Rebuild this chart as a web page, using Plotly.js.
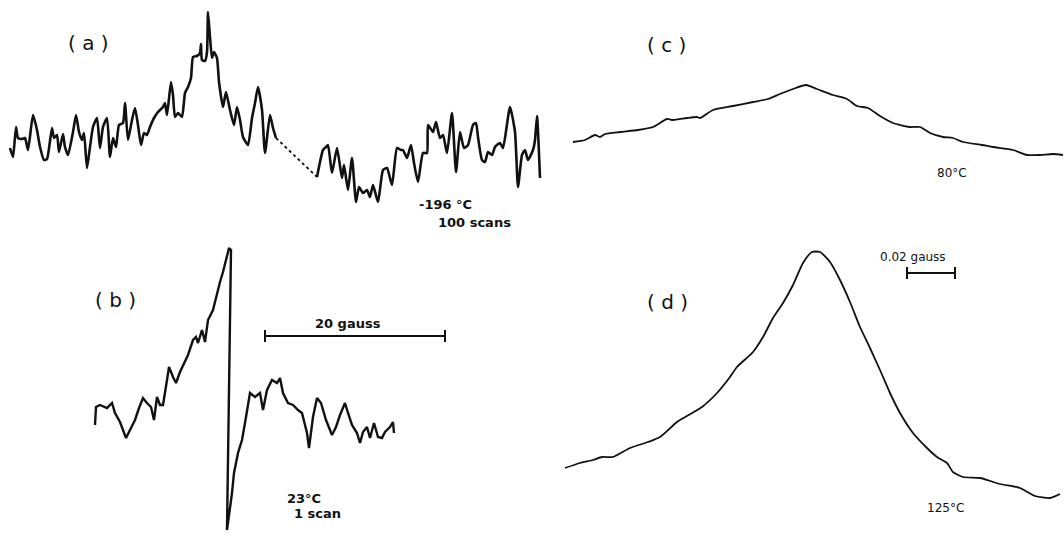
<!DOCTYPE html>
<html><head><meta charset="utf-8">
<script src="https://cdn.plot.ly/plotly-3.0.1.min.js"></script>
<style>html,body{margin:0;padding:0;background:#fff}#chart{width:1064px;height:537px}</style>
</head><body><div id="chart"></div>
<script>
// Panel (a) -196 °C, 100 scans (two recorded segments joined by a dotted gap)
const aField1 = [10,13,16,18,22,25,28,33,37,40,44,47,52,54,57,59,63,65,68,73,76,79,82,84,87,90,93,97,100,103,107,110,113,116,119,123,125,128,132,135,138,141,144,147,150,154,158,163,165,167,171,173,175,178,182,185,188,191,193,197,200,201,202,205,207,208,210,212,214,217,219,223,226,230,234,237,240,243,248,252,255,258,262,265,270,273,276];
const aSignal1 = [82,73,103,92,91,92,80,115,100,83,70,71,102,92,95,78,96,83,75,98,115,98,90,97,62,83,103,112,82,103,112,73,92,83,105,107,127,90,110,122,105,85,97,95,103,112,118,123,127,115,148,135,113,117,113,137,143,152,173,174,177,186,170,169,178,218,193,172,178,172,148,123,138,120,105,123,110,93,85,112,127,143,120,77,115,102,92];
const aGapField = [276,317];
const aGapSignal = [92,53];
const aField2 = [317,323,326,328,332,337,342,344,348,352,356,359,363,367,370,373,378,383,387,392,397,401,403,407,411,414,418,423,427,428,433,436,440,443,447,452,456,460,464,468,473,476,478,482,485,488,492,495,500,503,510,515,518,522,525,528,533,535,537,540];
const aSignal2 = [53,80,83,85,57,82,52,65,40,72,28,43,37,40,33,45,28,60,62,45,82,80,80,72,85,67,48,77,77,105,98,108,92,95,77,117,58,98,82,85,105,107,93,70,68,78,75,83,87,82,123,98,43,75,80,70,80,90,114,52];

// Panel (b) 23 °C, 1 scan
const bField = [35,36,40,47,52,55,60,66,70,75,79,83,87,91,94,97,100,103,107,109,113,116,120,126,128,133,136,138,142,145,148,153,157,160,163,167,169,171,167,172,174,178,182,185,188,190,195,200,203,207,212,217,220,223,228,233,238,242,247,249,253,257,261,266,272,276,280,285,288,292,297,300,303,307,310,314,318,322,325,330,333,334];
const bSignal = [112,130,132,129,134,124,115,99,107,117,129,139,134,130,117,140,132,132,157,170,160,154,165,179,182,197,200,194,207,195,217,227,244,255,265,280,289,287,7,44,64,84,97,114,134,144,140,144,127,147,157,154,159,144,134,132,127,124,104,89,120,139,134,117,102,110,122,134,124,112,104,94,105,110,99,114,100,99,105,110,115,104];

// Panel (c) 80 °C
const cField = [13,25,35,40,45,60,78,93,107,113,127,137,140,153,173,193,208,220,233,246,257,273,287,297,308,320,333,350,360,370,383,393,403,422,433,453,467,480,493,503];
const cSignal = [88,90,95,93,96,98,100,103,111,110,112,113,112,120,124,128,131,136,141,145,141,135,131,124,122,114,107,103,103,97,93,92,88,85,83,80,75,75,76,75];

// Panel (d) 125 °C
const dField = [5,20,33,42,53,70,88,100,117,127,142,157,170,177,193,203,213,223,233,243,252,260,270,280,290,300,310,320,330,340,353,367,377,387,393,403,420,440,460,475,490,500];
const dSignal = [69,74,77,80,80,89,95,100,115,121,130,144,160,170,185,200,219,234,252,274,285,285,275,257,235,210,189,167,144,124,104,89,80,74,65,60,59,53,49,41,39,43];

// Scale bars (field units of their panels)
const bScaleBar = [205,385];
const dScaleBar = [347,395];

const ink = '#111';
const thick = {color: ink, width: 2.6, shape: 'spline', smoothing: 0.5};
const thin = {color: ink, width: 1.8, shape: 'spline', smoothing: 0.6};

const traces = [
  {x: aField1, y: aSignal1, xaxis: 'x', yaxis: 'y', mode: 'lines', line: thick},
  {x: aGapField, y: aGapSignal, xaxis: 'x', yaxis: 'y', mode: 'lines', line: {color: ink, width: 1.8, dash: 'dot'}},
  {x: aField2, y: aSignal2, xaxis: 'x', yaxis: 'y', mode: 'lines', line: thick},
  {x: bField, y: bSignal, xaxis: 'x2', yaxis: 'y2', mode: 'lines', line: {color: ink, width: 2.4, shape: 'linear'}},
  {x: cField, y: cSignal, xaxis: 'x3', yaxis: 'y3', mode: 'lines', line: thin},
  {x: dField, y: dSignal, xaxis: 'x4', yaxis: 'y4', mode: 'lines', line: thin}
];

const hid = {visible: false, fixedrange: true};
const W = 1064, H = 537;
const colL = [0, 560 / W], colR = [560 / W, 1], colB = [60 / W, 460 / W];
const rowT = [1 - 230 / H, 1], rowB = [0, 1 - 230 / H];

const shapes = [
  {type: 'line', xref: 'x2', yref: 'y2', x0: bScaleBar[0], x1: bScaleBar[1], y0: 201, y1: 201, line: {color: ink, width: 2}},
  {type: 'line', xref: 'x2', yref: 'y2', x0: bScaleBar[0], x1: bScaleBar[0], y0: 195, y1: 207, line: {color: ink, width: 2}},
  {type: 'line', xref: 'x2', yref: 'y2', x0: bScaleBar[1], x1: bScaleBar[1], y0: 195, y1: 207, line: {color: ink, width: 2}},
  {type: 'line', xref: 'x4', yref: 'y4', x0: dScaleBar[0], x1: dScaleBar[1], y0: 264, y1: 264, line: {color: ink, width: 2}},
  {type: 'line', xref: 'x4', yref: 'y4', x0: dScaleBar[0], x1: dScaleBar[0], y0: 258, y1: 270, line: {color: ink, width: 2}},
  {type: 'line', xref: 'x4', yref: 'y4', x0: dScaleBar[1], x1: dScaleBar[1], y0: 258, y1: 270, line: {color: ink, width: 2}}
];

const F = 'DejaVu Sans, sans-serif';
function ann(text, xr, yr, x, y, size, anchor, bold) {
  return {text: bold ? '<b>' + text + '</b>' : text, xref: xr, yref: yr, x: x, y: y, showarrow: false,
          xanchor: anchor || 'center', yanchor: 'middle', font: {family: F, size: size, color: ink}};
}
const annotations = [
  ann('( a )', 'x', 'y', 88, 187, 20),
  ann('-196 °C', 'x', 'y', 417, 26, 13, 'left', true),
  ann('100 scans', 'x', 'y', 436, 8, 13, 'left', true),
  ann('( b )', 'x2', 'y2', 55, 237, 20),
  ann('20 gauss', 'x2', 'y2', 288, 214, 13, 'center', true),
  ann('23°C', 'x2', 'y2', 225, 39, 13, 'left', true),
  ann('1 scan', 'x2', 'y2', 232, 24, 13, 'left', true),
  ann('( c )', 'x3', 'y3', 106, 185, 20),
  ann('80°C', 'x3', 'y3', 375, 57, 12, 'left'),
  ann('( d )', 'x4', 'y4', 107, 235, 20),
  ann('0.02 gauss', 'x4', 'y4', 318, 280, 12, 'left'),
  ann('125°C', 'x4', 'y4', 365, 29, 12, 'left')
];

const layout = {
  width: W, height: H, margin: {l: 0, r: 0, t: 0, b: 0},
  paper_bgcolor: '#fff', plot_bgcolor: 'rgba(0,0,0,0)', showlegend: false,
  xaxis: Object.assign({domain: colL, range: [0, 560]}, hid),
  yaxis: Object.assign({domain: rowT, range: [0, 230]}, hid),
  xaxis2: Object.assign({domain: colB, range: [0, 400]}, hid),
  yaxis2: Object.assign({domain: rowB, range: [0, 307]}, hid),
  xaxis3: Object.assign({domain: colR, range: [0, 504]}, hid),
  yaxis3: Object.assign({domain: rowT, range: [0, 230]}, hid),
  xaxis4: Object.assign({domain: colR, range: [0, 504]}, hid),
  yaxis4: Object.assign({domain: rowB, range: [0, 307]}, hid),
  shapes: shapes, annotations: annotations
};
Plotly.newPlot('chart', traces, layout, {displayModeBar: false, staticPlot: true});
</script></body></html>
